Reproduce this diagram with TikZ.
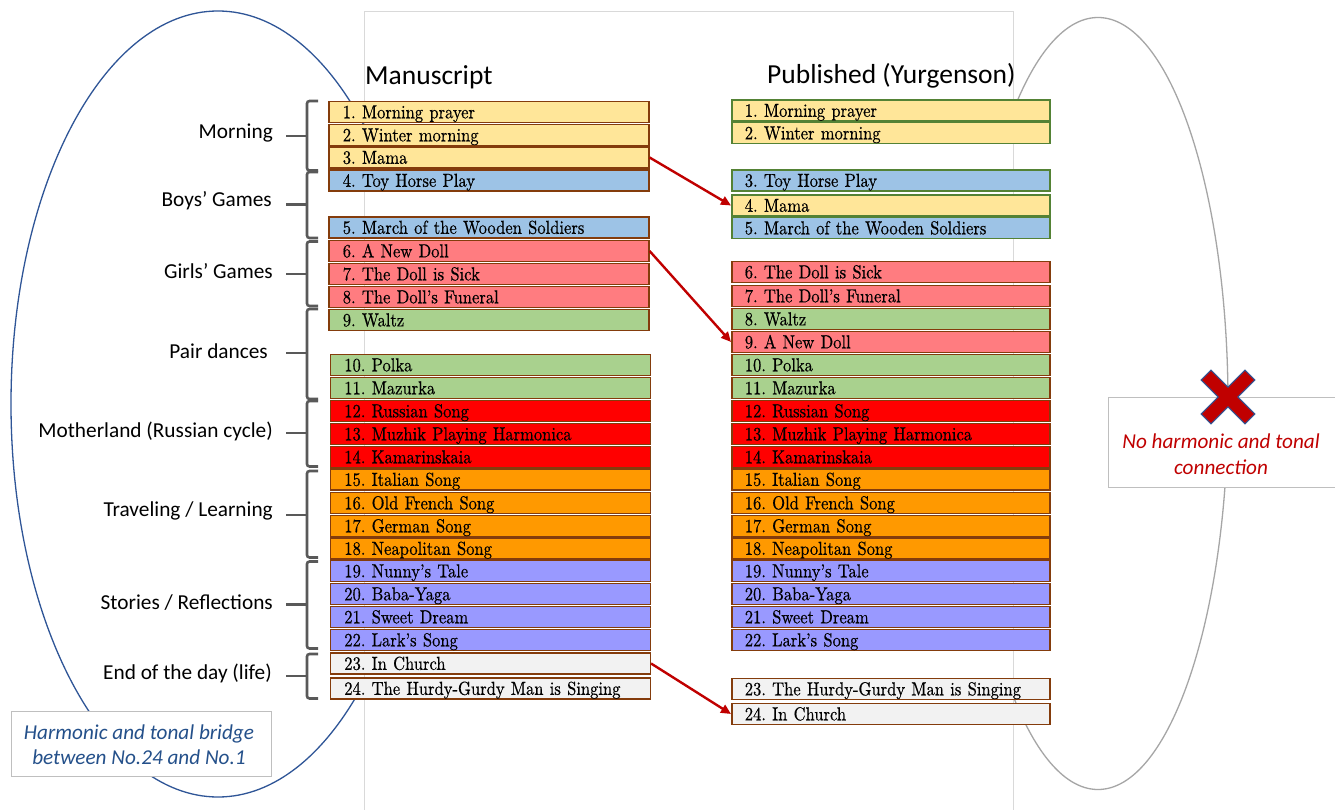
\documentclass[tikz,border=0pt]{standalone}
\usepackage{fontspec}
\newfontfamily\calib{Carlito}
\newfontfamily\boxfont[Extension=.otf, FakeStretch=0.88, FakeBold=0.5]{lmroman10-regular}
\usetikzlibrary{arrows.meta}
\definecolor{yel}{HTML}{FFE699}
\definecolor{blu}{HTML}{9DC3E6}
\definecolor{pnk}{HTML}{FF7C80}
\definecolor{grn}{HTML}{A9D18E}
\definecolor{rd}{HTML}{FF0000}
\definecolor{org}{HTML}{FF9900}
\definecolor{pur}{HTML}{9999FF}
\definecolor{gry}{HTML}{F2F2F2}
\definecolor{brn}{HTML}{843C0C}
\definecolor{gbd}{HTML}{548235}
\definecolor{ellblue}{HTML}{2F5597}
\definecolor{ellgray}{HTML}{A6A6A6}
\definecolor{pagec}{HTML}{D9D9D9}
\definecolor{brkc}{HTML}{595959}
\definecolor{arrred}{HTML}{C00000}
\definecolor{notebl}{HTML}{24508A}
\definecolor{notebd}{HTML}{BFBFBF}
\begin{document}
\begin{tikzpicture}[x=1pt,y=-1pt,
  itembox/.style={draw=brn, line width=1.6pt, minimum height=21pt, inner ysep=0pt,
    inner xsep=14pt, text width=292pt, anchor=west,
    font=\boxfont\fontsize{18.8}{20}\selectfont, text height=12.6pt, text depth=0pt},
  ritembox/.style={itembox, inner xsep=13pt, text width=292pt},
  hdr/.style={font=\calib\fontsize{27.5}{30}\selectfont, inner sep=0pt, anchor=west},
  grplab/.style={font=\calib\fontsize{21.3}{24}\selectfont, inner sep=0pt, anchor=east},
  brk/.style={draw=brkc, line width=2.6pt, rounded corners=2.5pt},
  arr/.style={draw=arrred, line width=2.4pt, -{Triangle[length=10pt,width=9pt]}},
  notebox/.style={draw=notebd, line width=0.8pt, fill=white},
  notetxt/.style={font=\calib\itshape\fontsize{21.2}{25.5}\selectfont, align=center, inner sep=0pt}
]
\useasboundingbox (0,0) rectangle (1335,810);
\fill[white] (0,0) rectangle (1335,810);
% ellipses
\draw[ellblue, line width=1.3pt] (218,404) ellipse [x radius=207pt, y radius=393pt];
\draw[ellgray, line width=1.3pt] (1098,403.5) ellipse [x radius=130pt, y radius=386pt];
% page
\fill[white] (364,11) rectangle (1013,810);
\draw[pagec, line width=0.8pt] (364,810) -- (364,11) -- (1013,11) -- (1013,810);
% headers
\node[hdr] (hm) at (365,77) {Manuscript};
\node[hdr] (hp) at (767,76) {Published (Yurgenson)};
% left column
\foreach \n/\x/\y/\t/\c in {
 1/328/112/Morning prayer/yel,
 2/328/135/Winter morning/yel,
 3/328/157.5/Mama/yel,
 4/328/180.5/Toy Horse Play/blu,
 5/328/227.5/March of the Wooden Soldiers/blu,
 6/328/251/A New Doll/pnk,
 7/328/274/The Doll is Sick/pnk,
 8/328/297/The Doll’s Funeral/pnk,
 9/328/320/Waltz/grn,
 10/329.5/365/Polka/grn,
 11/329.5/388/Mazurka/grn,
 12/329.5/411/Russian Song/rd,
 13/329.5/434/Muzhik Playing Harmonica/rd,
 14/329.5/457/Kamarinskaia/rd,
 15/329.5/479.5/Italian Song/org,
 16/329.5/503/Old French Song/org,
 17/329.5/526/German Song/org,
 18/329.5/548.5/Neapolitan Song/org,
 19/329.5/571/Nunny’s Tale/pur,
 20/329.5/594/Baba-Yaga/pur,
 21/329.5/617/Sweet Dream/pur,
 22/329.5/640/Lark’s Song/pur,
 23/329.5/663.5/In Church/gry,
 24/329.5/688.5/The Hurdy-Gurdy Man is Singing/gry}
 \node[itembox, fill=\c] (L\n) at (\x,\y) {\n.\ \t};
% right column
\foreach \n/\y/\t/\c/\b in {
 1/110.5/Morning prayer/yel/gbd,
 2/133/Winter morning/yel/gbd,
 3/180.5/Toy Horse Play/blu/gbd,
 4/205.5/Mama/yel/gbd,
 5/228/March of the Wooden Soldiers/blu/gbd,
 6/272/The Doll is Sick/pnk/brn,
 7/296/The Doll’s Funeral/pnk/brn,
 8/319/Waltz/grn/brn,
 9/342/A New Doll/pnk/brn,
 10/365/Polka/grn/brn,
 11/388/Mazurka/grn/brn,
 12/411/Russian Song/rd/brn,
 13/434/Muzhik Playing Harmonica/rd/brn,
 14/457/Kamarinskaia/rd/brn,
 15/479.5/Italian Song/org/brn,
 16/503/Old French Song/org/brn,
 17/526/German Song/org/brn,
 18/548.5/Neapolitan Song/org/brn,
 19/571/Nunny’s Tale/pur/brn,
 20/594/Baba-Yaga/pur/brn,
 21/617/Sweet Dream/pur/brn,
 22/640/Lark’s Song/pur/brn,
 23/689/The Hurdy-Gurdy Man is Singing/gry/brn,
 24/714/In Church/gry/brn}
 \node[ritembox, draw=\b, fill=\c] (R\n) at (731,\y) {\n.\ \t};
% arrows
\draw[arr] (L3.east) -- (R4.west);
\draw[arr] (L6.east) -- (R9.west);
\draw[arr] (L23.east) -- (R24.west);
% brackets
\foreach \tp/\md/\bt in {101/136/170.5, 172/204.5/238, 241.5/274/306, 309/353/399,
  401/433/466.5, 471/515/557.5, 561.5/604.5/648.5, 654/676/698.5}{
  \draw[brk] (318,\tp) -- (307,\tp) -- (307,\bt) -- (318,\bt);
  \draw[brk, rounded corners=0pt] (286,\md) -- (307,\md);
}
% group labels
\node[grplab] (g1) at (273,133) {Morning};
\node[grplab] (g2) at (272,201) {Boys’ Games};
\node[grplab] (g3) at (273,271) {Girls’ Games};
\node[grplab] (g4) at (268,351) {Pair dances};
\node[grplab] (g5) at (273,431) {Motherland (Russian cycle)};
\node[grplab] (g6) at (273,511) {Traveling / Learning};
\node[grplab] (g7) at (273,603) {Stories / Reflections};
\node[grplab] (g8) at (272,673) {End of the day (life)};
% notes
\node[notebox, minimum width=260pt, minimum height=64.5pt, inner sep=0pt] (nb1) at (141,744) {};
\node[notetxt, text=notebl] (nt1) at (139,744.5) {Harmonic and tonal bridge\\between No.24 and No.1};
\node[notebox, minimum width=228pt, minimum height=90pt, inner sep=0pt] (nb2) at (1222,442) {};
\node[notetxt, text=arrred] (nt2) at (1221,454) {No harmonic and tonal\\connection};
% cross
\begin{scope}[shift={(1228,397)}, rotate=45]
\filldraw[fill=arrred, draw=ellblue, line width=1pt]
  (7,7) -- (7,31) -- (-7,31) -- (-7,7) -- (-31,7) -- (-31,-7) -- (-7,-7) -- (-7,-31)
  -- (7,-31) -- (7,-7) -- (31,-7) -- (31,7) -- cycle;
\end{scope}
\end{tikzpicture}
\end{document}
